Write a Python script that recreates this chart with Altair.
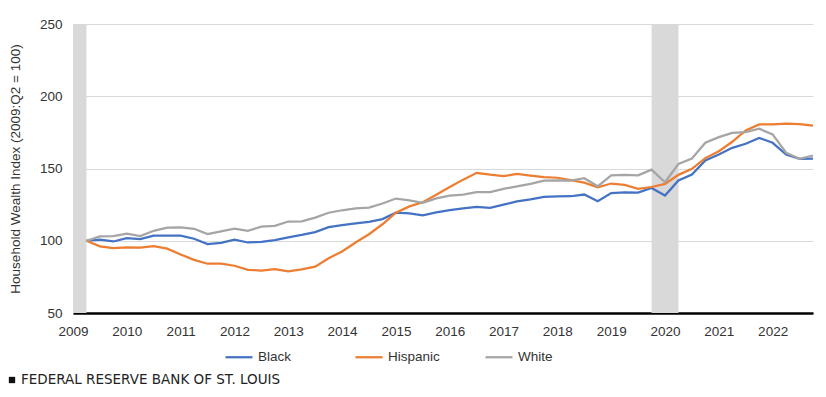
import altair as alt
import pandas as pd

# Quarterly series, 2009:Q2 through 2022:Q4 (index, 2009:Q2 = 100)
black = [100.0, 100.7, 99.5, 101.8, 101.2, 103.5, 103.5, 103.5, 101.4, 97.7,
         98.6, 100.7, 98.8, 99.3, 100.5, 102.3, 104.0, 106.0, 109.4, 110.8,
         112.0, 113.1, 115.0, 119.4, 119.0, 117.5, 119.6, 121.2, 122.4, 123.5,
         122.8, 125.0, 127.2, 128.6, 130.3, 130.7, 130.8, 132.0, 127.3, 133.0,
         133.5, 133.3, 136.5, 131.3, 141.7, 145.8, 155.5, 159.7, 164.3, 167.1,
         171.2, 167.8, 159.7, 156.7, 156.9]
hispanic = [100.0, 96.1, 94.9, 95.4, 95.2, 96.3, 94.5, 90.5, 86.8, 84.1,
            84.1, 82.7, 79.9, 79.4, 80.3, 78.8, 80.2, 82.1, 87.9, 92.6,
            98.8, 104.5, 111.4, 119.4, 123.8, 126.6, 131.9, 137.2, 142.3, 147.0,
            145.7, 144.8, 146.2, 145.0, 144.0, 143.6, 142.0, 140.2, 137.0, 139.6,
            138.6, 135.9, 137.2, 139.3, 145.6, 149.8, 157.2, 162.0, 168.5, 176.3,
            180.5, 180.5, 181.0, 180.7, 179.6]
white = [100.0, 103.0, 103.2, 105.0, 103.2, 106.9, 109.0, 109.2, 108.3, 104.6,
         106.5, 108.3, 106.9, 109.7, 110.3, 113.3, 113.4, 116.0, 119.4, 121.1,
         122.4, 123.0, 125.8, 129.2, 128.0, 126.3, 129.3, 131.2, 132.0, 133.6,
         133.7, 135.9, 137.6, 139.3, 141.6, 141.8, 141.6, 143.3, 137.7, 145.2,
         145.6, 145.3, 149.2, 140.5, 153.2, 156.9, 167.8, 171.7, 174.7, 175.2,
         177.5, 173.6, 160.9, 156.7, 159.0]

series_names = ["Black", "Hispanic", "White"]
series_colors = ["#4472C4", "#ED7D31", "#A5A5A5"]

# Recession shading (in years)
rec_start = [2009.0, 2019.75]
rec_end = [2009.25, 2020.25]

year_ticks = list(range(2009, 2023))
y_ticks = [50, 100, 150, 200, 250]

FONT = "Liberation Sans"
TXT = "#333333"

# quarter positions: 2009:Q2 -> 2009.25, step 0.25
times = [2009.25 + 0.25 * i for i in range(len(black))]
rows = []
for name, vals in zip(series_names, [black, hispanic, white]):
    for t, v in zip(times, vals):
        rows.append({"t": t, "value": v, "series": name})
df = pd.DataFrame(rows)
rec = pd.DataFrame({"start": rec_start, "end": rec_end})

xscale = alt.Scale(domain=[2009, 2022.75], nice=False, zero=False)
yscale = alt.Scale(domain=[50, 250], nice=False, zero=False)

shade = alt.Chart(rec).mark_rect(color="#D9D9D9").encode(
    x=alt.X("start:Q", scale=xscale,
            axis=alt.Axis(values=year_ticks, format="d", title=None, grid=False,
                          ticks=False, domainColor="#000000", domainWidth=2.5,
                          labelFont=FONT, labelFontSize=13.5, labelColor=TXT,
                          labelPadding=11, labelFlush=False, labelOverlap=False)),
    x2="end:Q",
    y=alt.value(0),
    y2=alt.value(289),
)

lines = alt.Chart(df).mark_line(strokeWidth=2.25).encode(
    x=alt.X("t:Q", scale=xscale),
    y=alt.Y("value:Q", scale=yscale,
            axis=alt.Axis(values=y_ticks, title="Household Wealth Index (2009:Q2 = 100)",
                          grid=True, gridColor="#D9D9D9", gridWidth=1,
                          domain=False, ticks=False, labelFont=FONT,
                          labelFontSize=13.5, labelColor=TXT, labelPadding=11,
                          titleFont=FONT, titleFontSize=13.5, titleFontWeight="normal",
                          titleColor=TXT, titleX=-58, titleBaseline="middle")),
    color=alt.Color("series:N",
                    scale=alt.Scale(domain=series_names, range=series_colors),
                    legend=alt.Legend(title=None, orient="none", direction="horizontal",
                                      columns=3, gridAlign="all", columnPadding=41,
                                      legendX=151, legendY=318, padding=0,
                                      symbolType="stroke", symbolSize=729,
                                      symbolStrokeWidth=2.25, labelOffset=4,
                                      labelFont=FONT, labelFontSize=13.5,
                                      labelColor=TXT)),
    order=alt.Order("t:Q"),
)

footer_df = pd.DataFrame({"label": ["FEDERAL RESERVE BANK OF ST. LOUIS"]})
footer = alt.Chart(footer_df).mark_text(
    align="left", baseline="middle", font="DejaVu Sans", fontSize=13.5,
    color="#222222").encode(text="label:N", x=alt.value(-52), y=alt.value(356))
square = alt.Chart(footer_df).mark_point(
    shape="square", filled=True, size=40, color="#111111", opacity=1).encode(
    x=alt.value(-61), y=alt.value(356))

chart = alt.layer(shade, lines, footer, square).properties(
    width=740, height=289,
    autosize=alt.AutoSizeParams(type="none"),
    padding={"left": 65, "top": 16, "right": 5, "bottom": 76},
).configure_view(stroke=None)

chart.save("out.html", embed_options={"renderer": "svg", "actions": False})
